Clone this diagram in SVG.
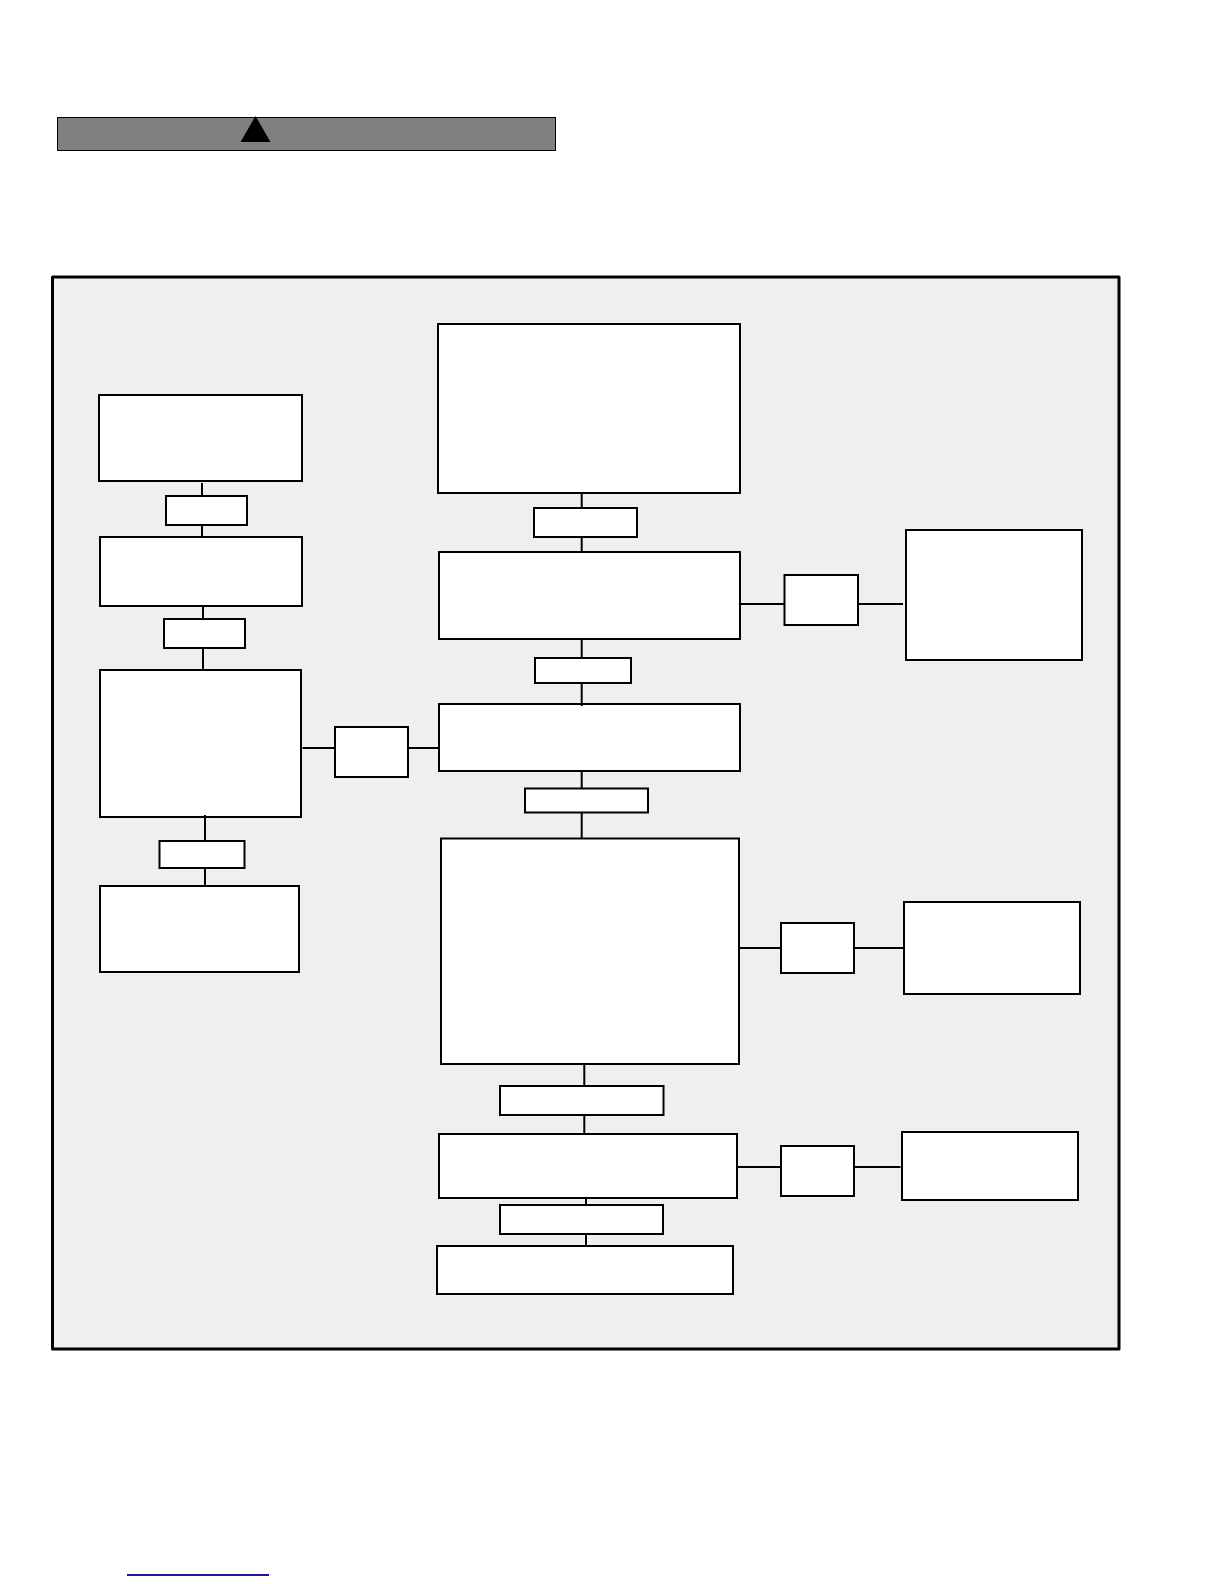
<svg xmlns="http://www.w3.org/2000/svg" width="1224" height="1584" viewBox="0 0 1224 1584">
<style>
.b{fill:#fff;stroke:#000;stroke-width:2}
.c{fill:none;stroke:#000;stroke-width:2}
</style>
<rect width="1224" height="1584" fill="#fff"/>
<g id="banner">
<rect x="57.5" y="117.5" width="498" height="33" fill="#808080" stroke="#000" stroke-width="1"/>
<polygon points="255.500,116 270.500,142 240.500,142" fill="#000"/>
</g>
<g id="panel"><rect x="52.5" y="277" width="1066.5" height="1072" fill="#efefef" stroke="#000" stroke-width="3" stroke-linejoin="round"/></g>
<g id="l1"><rect class="b" x="99" y="395" width="203" height="86"/></g>
<g id="l1s"><rect class="b" x="166" y="496" width="81" height="29"/></g>
<g id="l2"><rect class="b" x="100" y="537" width="202" height="69"/></g>
<g id="l2s"><rect class="b" x="164" y="619" width="81" height="29"/></g>
<g id="l3"><rect class="b" x="100" y="670" width="201" height="147"/></g>
<g id="l3s"><rect class="b" x="159.500" y="841" width="85" height="27"/></g>
<g id="l4"><rect class="b" x="100" y="886" width="199" height="86"/></g>
<g id="lm"><rect class="b" x="335" y="727" width="73" height="50"/></g>
<g id="c1"><rect class="b" x="438" y="324" width="302" height="169"/></g>
<g id="c1s"><rect class="b" x="534" y="508" width="103" height="29"/></g>
<g id="c2"><rect class="b" x="439" y="552" width="301" height="87"/></g>
<g id="c2s"><rect class="b" x="535" y="658" width="96" height="25"/></g>
<g id="c3"><rect class="b" x="439" y="704" width="301" height="67"/></g>
<g id="c3s"><rect class="b" x="525" y="788.500" width="123" height="24"/></g>
<g id="c4"><rect class="b" x="441" y="838.500" width="298" height="225.500"/></g>
<g id="c4s"><rect class="b" x="500" y="1086" width="163.500" height="29"/></g>
<g id="c5"><rect class="b" x="439" y="1134" width="298" height="64"/></g>
<g id="c5s"><rect class="b" x="500" y="1205" width="163" height="29"/></g>
<g id="c6"><rect class="b" x="437" y="1246" width="296" height="48"/></g>
<g id="r1m"><rect class="b" x="784.500" y="575" width="73.500" height="50"/></g>
<g id="r1"><rect class="b" x="906" y="530" width="176" height="130"/></g>
<g id="r2m"><rect class="b" x="781" y="923" width="73" height="50"/></g>
<g id="r2"><rect class="b" x="904" y="902" width="176" height="92"/></g>
<g id="r3m"><rect class="b" x="781" y="1146" width="73" height="50"/></g>
<g id="r3"><rect class="b" x="902" y="1132" width="176" height="68"/></g>
<g id="connectors">
<path class="c" d="M202 483V496M202 525V537M203 606V619M203 648V670M205 815V841M205 868V886M302.500 748H335M408 748H439M581.700 493V508M581.700 537V552M581.700 639V658M581.700 683V706M581.700 771V788.500M581.700 812.500V838.500M740 604H784.500M858 604H903M739 948H781M854 948H904M584.300 1064V1086M584.300 1115V1134M737 1167H781M854 1167H900.500M586 1198V1205M586 1234V1246"/>
</g>
<rect id="footer-rule" x="127" y="1574" width="142" height="2" fill="#1a1a96"/>
</svg>
